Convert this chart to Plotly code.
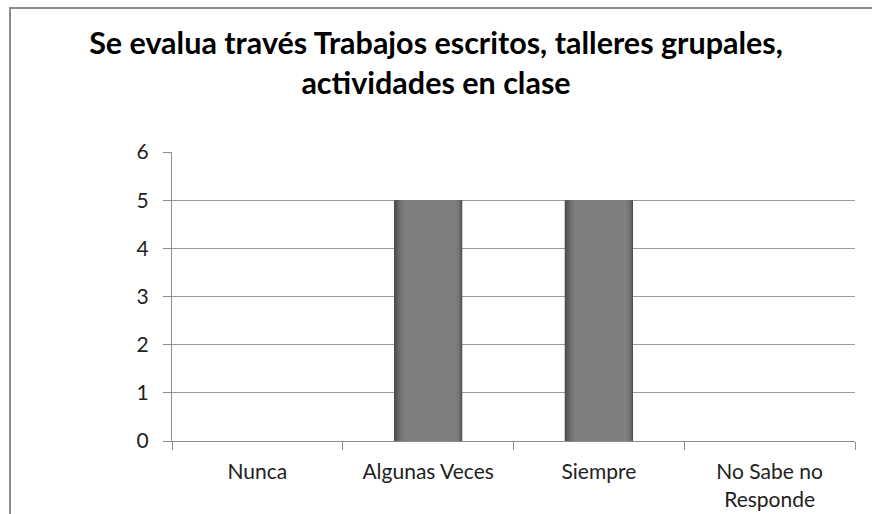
import plotly.graph_objects as go

categories = ["Nunca", "Algunas Veces", "Siempre", "No Sabe no<br>Responde"]
values = [0, 5, 5, 0]
y_ticks = [0, 1, 2, 3, 4, 5, 6]
title_text = "Se evalua través Trabajos escritos, talleres grupales,<br>actividades en clase"

W, H = 872, 514
ml, mr, mt, mb = 172, 17, 152, 73

# layered bars to imitate the shaded (cylinder-like) fill
layers = [
    (-0.200, 0.400, "#4b4b4b"),
    (-0.192, 0.389, "#565656"),
    (-0.184, 0.378, "#606060"),
    (-0.176, 0.366, "#686868"),
    (-0.168, 0.353, "#707070"),
    (-0.160, 0.340, "#767676"),
    (-0.150, 0.322, "#7b7b7b"),
    (-0.140, 0.300, "#7f7f7f"),
]

fig = go.Figure()
for off, w, c in layers:
    fig.add_trace(go.Bar(
        x=categories, y=values, offset=off, width=w,
        marker=dict(color=c, line=dict(width=0)),
        showlegend=False, hoverinfo="skip",
    ))

pw = W - ml - mr
ph = H - mt - mb
fig.add_shape(type="rect", xref="paper", yref="paper",
              x0=(10 - ml) / pw, x1=(W + 20 - ml) / pw,
              y0=-(H + 20 - mt - ph) / ph, y1=(H - mb - 8) / ph,
              line=dict(color="#8c8c8c", width=2), fillcolor="rgba(0,0,0,0)",
              layer="below")

fig.update_layout(
    width=W, height=H,
    margin=dict(l=ml, r=mr, t=mt, b=mb),
    paper_bgcolor="white", plot_bgcolor="white",
    barmode="overlay",
    font=dict(family="Lato, Open Sans, sans-serif", color="#1a1a1a", size=21),
    title=dict(text=title_text, x=0.5, xref="container", xanchor="center",
               y=1 - 54 / H, yref="container", yanchor="top",
               font=dict(family="Lato, sans-serif", size=30.5, color="#000000",
                         weight="bold")),
    xaxis=dict(
        automargin=False,
        showline=True, linecolor="#8c8c8c", linewidth=1,
        ticks="outside", tickson="boundaries", ticklen=8, tickcolor="#8c8c8c",
        showgrid=False, tickfont=dict(size=21, color="#222222"),
        ticklabelstandoff=12,
    ),
    yaxis=dict(
        automargin=False,
        range=[0, 6], tickvals=y_ticks, showline=True, linecolor="#8c8c8c",
        linewidth=1, ticks="outside", ticklen=8, tickcolor="#8c8c8c",
        showgrid=True, gridcolor="#9a9a9a", gridwidth=1, zeroline=False,
        tickfont=dict(size=21, color="#222222"), ticklabelstandoff=10,
    ),
)

fig.write_html("out.html", config={"displayModeBar": False},
               post_script="document.body.style.margin='0';")
